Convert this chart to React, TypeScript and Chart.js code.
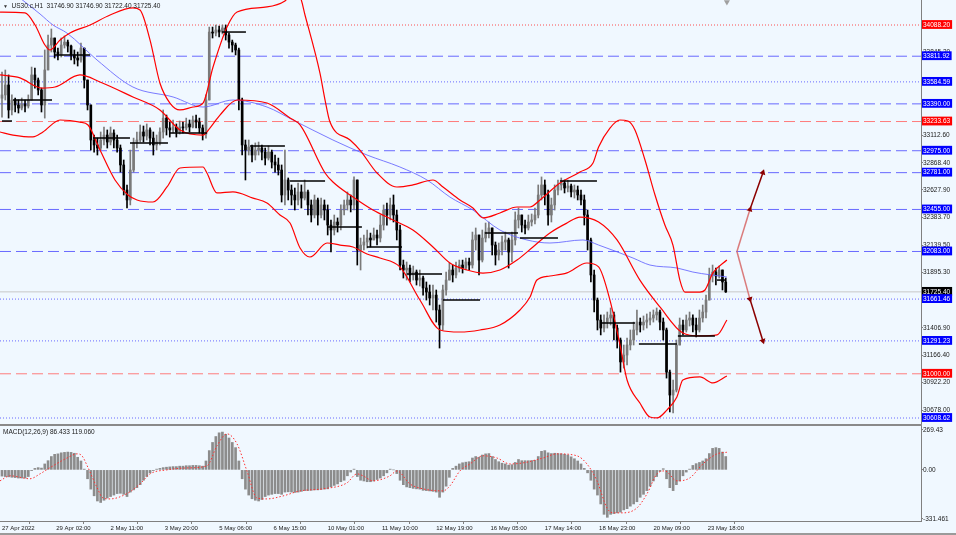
import React, { useEffect, useRef } from "react";
import { Chart, registerables } from "chart.js";

Chart.register(...registerables);

const FONT = "'Liberation Sans', Arial, sans-serif";
const BG = "#f0f8ff";

const X_MIN = -1.216;
const X_MAX = 558.7;
const Y_MIN = 30555.5;
const Y_MAX = 34309.6;
const MACD_MIN = -345;
const MACD_MAX = 296;

// ---- price data (2-hour candles, x = hour index) ----
const firstOpen = 33440;
const closes = [
  33469, 33557, 33336, 33424, 33380, 33353, 33389, 33371, 33424, 33646,
  33601, 33513, 33380, 33690, 33911, 33973, 33849, 33823, 33911, 33937,
  33902, 33823, 33796, 33778, 33884, 33601, 33380, 33070, 33026, 32999,
  33070, 33114, 33052, 33132, 33070, 32999, 32849, 32627, 32539, 32804,
  33044, 33070, 33141, 33105, 33159, 33087, 33026, 33052, 33141, 33264,
  33177, 33159, 33185, 33141, 33185, 33177, 33212, 33185, 33247, 33229,
  33177, 33123, 33424, 34026, 34017, 34044, 34026, 34062, 34000, 33937,
  33911, 33867, 33424, 33026, 32981, 33008, 32937, 32981, 32999, 32963,
  32910, 32963, 32875, 32849, 32804, 32583, 32716, 32627, 32583, 32539,
  32610, 32556, 32610, 32495, 32406, 32539, 32406, 32495, 32450, 32317,
  32273, 32344, 32317, 32450, 32495, 32539, 32495, 32716, 32096, 32140,
  32167, 32202, 32185, 32229, 32202, 32317, 32450, 32406, 32495, 32406,
  32273, 31963, 31919, 31936, 31875, 31901, 31830, 31848, 31760, 31724,
  31671, 31697, 31565, 31432, 31742, 31830, 31919, 31875, 31936, 31963,
  31936, 31990, 31963, 32185, 32229, 32007, 32202, 32255, 32291, 32140,
  32052, 32096, 32167, 32185, 32078, 32185, 32362, 32406, 32317, 32291,
  32344, 32362, 32406, 32583, 32672, 32583, 32406, 32495, 32627, 32672,
  32689, 32645, 32663, 32610, 32627, 32583, 32539, 32406, 32185, 31875,
  31653, 31476, 31405, 31458, 31494, 31521, 31405, 31299, 31105, 31166,
  31255, 31299, 31388, 31458, 31432, 31458, 31476, 31494, 31521, 31547,
  31458, 31388, 31015, 30812, 30856, 31255, 31432, 31388, 31476, 31494,
  31432, 31388, 31494, 31547, 31653, 31875, 31901, 31866, 31919, 31813,
  31725.4,
];
const highs = [
  33672, 33690, 33646, 33469, 33442, 33424, 33442, 33424, 33469, 33716,
  33707, 33619, 33530, 33867, 34000, 34053, 33955, 33885, 33973, 33991,
  33955, 33911, 33867, 33849, 33928, 33884, 33601, 33380, 33114, 33087,
  33141, 33185, 33159, 33185, 33159, 33114, 33026, 32893, 32672, 32981,
  33087, 33141, 33203, 33194, 33212, 33177, 33141, 33114, 33177, 33336,
  33291, 33229, 33247, 33212, 33238, 33229, 33264, 33247, 33282, 33291,
  33264, 33203, 33469, 34070, 34070, 34088, 34079, 34088, 34088, 34017,
  33955, 33928, 33884, 33442, 33070, 33070, 33026, 33044, 33052, 33026,
  32999, 33017, 32981, 32937, 32910, 32849, 32981, 32734, 32672, 32645,
  32689, 32672, 32716, 32627, 32539, 32583, 32556, 32556, 32539, 32495,
  32362, 32406, 32380, 32495, 32539, 32610, 32583, 32743, 32716, 32202,
  32229, 32273, 32246, 32291, 32273, 32406, 32495, 32512, 32556, 32583,
  32450, 32317, 32007, 31990, 31963, 31954, 31919, 31919, 31866, 31813,
  31786, 31786, 31742, 31609, 31786, 31901, 31981, 31963, 31990, 32007,
  32007, 32025, 32025, 32255, 32291, 32229, 32273, 32335, 32344, 32291,
  32167, 32158, 32220, 32255, 32202, 32255, 32433, 32468, 32406, 32362,
  32406, 32415, 32468, 32672, 32743, 32716, 32627, 32556, 32672, 32716,
  32734, 32716, 32716, 32680, 32672, 32663, 32627, 32583, 32450, 32202,
  31919, 31671, 31521, 31521, 31547, 31583, 31547, 31432, 31317, 31255,
  31317, 31388, 31458, 31565, 31494, 31512, 31530, 31547, 31565, 31583,
  31565, 31494, 31405, 31033, 30945, 31299, 31494, 31476, 31521, 31547,
  31521, 31494, 31565, 31609, 31697, 31936, 31963, 31936, 31954, 31919,
  31848,
];
const lows = [
  33273, 33424, 33264, 33291, 33318, 33309, 33336, 33318, 33353, 33424,
  33530, 33469, 33318, 33264, 33778, 33849, 33796, 33778, 33805, 33884,
  33849, 33778, 33743, 33725, 33760, 33530, 33336, 32981, 32963, 32937,
  32981, 33026, 32999, 33026, 32999, 32963, 32786, 32583, 32468, 32495,
  32786, 32999, 33052, 33052, 33070, 33026, 32937, 32981, 33026, 33087,
  33114, 33096, 33132, 33096, 33123, 33132, 33159, 33141, 33177, 33177,
  33132, 33070, 33087, 33424, 33973, 33991, 33982, 34009, 33955, 33884,
  33849, 33823, 33336, 32937, 32716, 32937, 32875, 32893, 32937, 32893,
  32849, 32893, 32822, 32786, 32760, 32521, 32495, 32539, 32495, 32450,
  32495, 32468, 32539, 32406, 32344, 32380, 32317, 32380, 32362, 32229,
  32078, 32229, 32255, 32273, 32406, 32450, 32433, 32450, 31963, 31919,
  32096, 32114, 32123, 32202, 32140, 32167, 32273, 32317, 32362, 32344,
  32185, 31919, 31848, 31830, 31813, 31830, 31786, 31777, 31697, 31653,
  31609, 31565, 31458, 31228, 31388, 31697, 31830, 31813, 31848, 31901,
  31892, 31919, 31919, 31936, 32096, 31875, 31990, 32167, 32202, 32052,
  31963, 32007, 32052, 32096, 31936, 31990, 32140, 32291, 32255, 32238,
  32273, 32309, 32326, 32380, 32539, 32495, 32317, 32344, 32450, 32583,
  32627, 32601, 32610, 32565, 32556, 32539, 32495, 32317, 32096, 31813,
  31547, 31388, 31344, 31370, 31405, 31432, 31299, 31228, 31015, 31051,
  31078, 31211, 31255, 31344, 31370, 31388, 31405, 31432, 31458, 31476,
  31388, 31299, 30962, 30662, 30653, 30839, 31255, 31344, 31370, 31423,
  31370, 31326, 31370, 31458, 31494, 31653, 31813, 31786, 31848, 31742,
  31720,
];

// ---- MACD ----
const macdHist = [
  -42, -45, -47, -50, -52, -55, -55, -55, -45, -5,
  10, 15, 12, 40, 62, 90, 105, 108, 115, 118,
  120, 118, 112, 85, 60, 5, -60, -130, -175, -210,
  -220, -205, -190, -180, -170, -160, -158, -165, -180, -150,
  -135, -120, -100, -70, -45, -20, -5, 5, 10, 15,
  18, 20, 22, 22, 25, 25, 28, 28, 30, 30,
  28, 25, 60, 130, 185, 225, 250, 255, 240, 215,
  185, 150, 60, -60, -130, -170, -195, -205, -210, -200,
  -180, -170, -165, -160, -160, -165, -150, -148, -150, -152,
  -150, -145, -140, -140, -138, -135, -135, -133, -130, -128,
  -115, -105, -95, -80, -70, -40, -15, 5, -45, -70,
  -75, -80, -80, -75, -65, -55, -40, -20, 5, 0,
  -25, -70, -100, -115, -120, -125, -128, -130, -138, -140,
  -142, -145, -150, -185, -150, -110, -50, 10, 25, 40,
  48, 52, 55, 80, 90, 85, 100, 108, 110, 90,
  70, 55, 45, 40, 32, 35, 50, 70, 62, 62,
  62, 63, 65, 90, 125, 130, 115, 110, 112, 110,
  108, 105, 100, 88, 75, 60, 40, 10, -20, -70,
  -130, -170, -230, -300, -320, -300, -295, -290, -285, -270,
  -262, -245, -230, -215, -185, -165, -140, -110, -75, -45,
  -10, 8, -60, -120, -140, -100, -75, -40, -15, 5,
  30, 42, 50, 60, 75, 110, 145, 150, 145, 120,
  90,
];
const macdSignal = [
  [-1.2, -74], [4.9, -40], [17, -60], [23.1, -27], [29.2, 15], [39.5, 80], [45.6, 108], [48.6, 95],
  [52.3, 15], [57.8, -120], [61.4, -190], [65.7, -196], [76, -160], [83.9, -95], [90, -27],
  [100.3, 0], [112.5, 13], [124.6, 27], [130.7, 162], [136.8, 243], [142.9, 175], [148.9, -7],
  [155, -190], [161.1, -196], [170.8, -176], [181.2, -142], [195.1, -128], [209.7, -88],
  [215.8, -27], [219.5, -40], [225.5, -74], [235.9, -40], [240.1, -7], [248, -95], [255.9, -128],
  [268.1, -142], [272.3, -108], [278.4, -7], [284.5, 40], [292.4, 95], [300.9, 80], [308.8, 40],
  [316.7, 47], [328.9, 80], [337.4, 108], [349.5, 95], [355.6, 40], [361.7, -74], [367.8, -257],
  [371.4, -290], [377.5, -290], [386, -257], [392.1, -162], [398.2, -27], [403, -7], [410.3, -74],
  [418.2, -54], [426.1, 40], [434.7, 108], [440.7, 119],
];

// ---- Bollinger bands and moving average ----
const bbUpper = [
  [-1.2, 34203], [14, 34195], [20.1, 34088], [26.1, 33911], [29.2, 33867], [35.3, 33955],
  [41.3, 34017], [53.5, 34088], [65.7, 34177], [79.6, 34239], [83.9, 34221], [90, 33955],
  [96, 33575], [102.1, 33397], [108.2, 33336], [116.1, 33362], [122.2, 33397], [128.3, 33716],
  [136.8, 34070], [142.9, 34203], [161.1, 34248], [172, 34301], [176.3, 34363], [181.2, 34336],
  [184.2, 34177], [193.3, 33663], [196.4, 33424], [199.4, 33229], [211.6, 33070], [217.6, 32981],
  [228, 32778], [240.1, 32654], [249.8, 32672], [262, 32716], [268.1, 32654], [278.4, 32539],
  [286.3, 32468], [292.4, 32380], [302.7, 32424], [313.1, 32477], [321, 32477], [327.1, 32539],
  [339.2, 32689], [351.4, 32787], [359.3, 32867], [362.7, 33008], [369.6, 33176], [375.7, 33247],
  [380.5, 33238], [384.8, 33159], [390.9, 32893], [397, 32583], [403, 32317], [407.9, 32140],
  [412.1, 31830], [415.2, 31724], [424.3, 31724], [427.4, 31742], [432.2, 31893], [440.7, 32007],
];
const bbMiddle = [
  [-1.2, 33646], [10.9, 33620], [24.3, 33530], [32.2, 33539], [47.4, 33646], [59.6, 33584],
  [79.6, 33451], [96, 33336], [108.2, 33159], [122.2, 33114], [126.4, 33176], [132.5, 33291],
  [142.9, 33424], [161.1, 33398], [175.1, 33265], [181.2, 33203], [196.4, 32778], [201.2, 32698],
  [213.4, 32565], [225.5, 32450], [237.7, 32362], [249.8, 32273], [262, 32123], [272.3, 31981],
  [282.7, 31919], [292.4, 31892], [302.7, 31919], [313.1, 32007], [322.8, 32123], [333.1, 32247],
  [343.5, 32335], [351.4, 32388], [362.7, 32344], [373.9, 32185], [387.8, 31830], [400, 31592],
  [413.9, 31361], [424.3, 31335], [434.7, 31344], [440.7, 31476],
];
const bbLower = [
  [-1.2, 33141], [6.7, 33114], [18.8, 33097], [24.9, 33141], [35.3, 33247], [47.4, 33229],
  [52.3, 33203], [59.6, 32981], [68.7, 32716], [76.6, 32583], [82.1, 32539], [91.8, 32521],
  [100.3, 32654], [108.2, 32822], [122.2, 32831], [124.6, 32778], [130.7, 32601], [140.4, 32610],
  [152.6, 32556], [161.1, 32512], [169, 32406], [175.1, 32335], [181.2, 32114], [187.2, 32034],
  [197.6, 32158], [205.5, 32140], [213.4, 32123], [221.9, 32061], [229.8, 32025], [241.9, 31946],
  [254.1, 31653], [266.3, 31388], [278.4, 31370], [290.6, 31388], [302.7, 31432], [314.9, 31565],
  [321, 31680], [325.2, 31830], [333.1, 31866], [343.5, 31893], [355.6, 31981], [362.7, 31946],
  [369.6, 31653], [375.7, 31255], [380, 30945], [387.8, 30741], [393.9, 30617], [398.2, 30609],
  [404.2, 30679], [410.3, 30795], [413.9, 30945], [424.3, 30972], [432.2, 30919], [440.7, 30981],
];
const movingAvg = [
  [10.9, 34327], [23.1, 34186], [31, 34088], [39.5, 34017], [57.8, 33778], [79.6, 33539],
  [104, 33451], [122.2, 33362], [140.4, 33424], [161.1, 33362], [176.9, 33247], [201.2, 33070],
  [221.9, 32937], [241.9, 32831], [258.4, 32716], [272.3, 32565], [286.3, 32450], [302.7, 32273],
  [319.1, 32185], [333.1, 32158], [353.2, 32185], [362.7, 32140], [383.6, 32025], [393.9, 31963],
  [410.3, 31937], [420, 31901], [440.7, 31857],
];

// ---- daily segments [fromHour, toHour, price] ----
const dailySegments = [
  [0, 6.1, 33238], [6.7, 30.4, 33424], [32.2, 53.5, 33823], [55.3, 77.8, 33087],
  [77.8, 100.9, 33044], [102.1, 124.6, 33132], [133.7, 148.3, 34026], [150.8, 172, 33017],
  [175.1, 196.4, 32707], [198.2, 218.8, 32300], [221.9, 243.2, 32123], [246.2, 267.5, 31884],
  [268.1, 290.6, 31653], [293.6, 313.7, 32246], [314.9, 338, 32202], [339.2, 361.7, 32707],
  [363.8, 384.8, 31450], [387.2, 410.3, 31264], [410.9, 433.4, 31335], [434.7, 440.1, 31830],
];

// ---- horizontal levels ----
const levelPrices = [
  34088.2, 33811.92, 33584.59, 33390.0, 33233.63, 32975.0, 32781.0,
  32455.0, 32083.0, 31725.4, 31661.46, 31291.23, 31000.0, 30608.62,
];
const levelKinds = [
  "redDot", "blueDash", "blueDot", "blueDash", "redDash", "blueDash", "blueDash",
  "blueDash", "blueDash", "price", "blueDot", "blueDot", "redDash", "blueDot",
];
const priceTickValues = [
  33845.2, 33112.6, 32868.4, 32627.9, 32383.7, 32139.5, 31895.3,
  31406.9, 31166.4, 30922.2, 30678.0,
];

const macdTickValues = [269.43, 0, -331.461];
const macdTickLabels = ["269.43", "0.00", "-331.461"];

const xTickHours = [0, 33, 66, 99, 132, 165, 198, 231, 264, 297, 330, 363, 396, 429];
const xTickLabels = [
  "27 Apr 2022", "29 Apr 02:00", "2 May 11:00", "3 May 20:00", "5 May 06:00",
  "6 May 15:00", "10 May 01:00", "11 May 10:00", "12 May 19:00", "16 May 05:00",
  "17 May 14:00", "18 May 23:00", "20 May 09:00", "23 May 18:00",
];

const arrowUp = [[446.8, 32083], [454.7, 32455], [462.6, 32781]];
const arrowDown = [[446.8, 32083], [454.7, 31661.46], [462.6, 31291.23]];

const LEVEL_STYLE: Record<string, { line: string; dash: number[]; box: string }> = {
  redDot: { line: "rgba(255,50,50,0.85)", dash: [1, 2], box: "#ff0000" },
  blueDash: { line: "rgba(80,80,255,0.85)", dash: [11, 5], box: "#0000ff" },
  blueDot: { line: "rgba(80,80,255,0.85)", dash: [1, 2], box: "#0000ff" },
  redDash: { line: "rgba(255,110,110,0.9)", dash: [11, 5], box: "#ff0000" },
  price: { line: "#c8c8c8", dash: [], box: "#000000" },
};

const pts = (arr: number[][]) => arr.map(([x, y]) => ({ x, y }));

function levelIndex(v: number) {
  return levelPrices.indexOf(v);
}

export default function App() {
  const mainRef = useRef<HTMLCanvasElement | null>(null);
  const macdRef = useRef<HTMLCanvasElement | null>(null);

  useEffect(() => {
    document.body.style.margin = "0";
    const hours = closes.map((_, i) => i * 2);
    const opens = closes.map((_, i) => (i === 0 ? firstOpen : closes[i - 1]));
    const colors = closes.map((c, i) => (c >= opens[i] ? "#7a7a7a" : "#000000"));

    const lineDs = (data: any[], color: string, width: number, dash: number[], order: number, extra: any = {}) => ({
      type: "line",
      data,
      borderColor: color,
      borderWidth: width,
      borderDash: dash,
      pointRadius: 0,
      fill: false,
      order,
      ...extra,
    });

    const datasets: any[] = [];
    levelPrices.forEach((p, i) => {
      const st = LEVEL_STYLE[levelKinds[i]];
      datasets.push(lineDs([{ x: X_MIN, y: p }, { x: X_MAX, y: p }], st.line, 1, st.dash, 20));
    });
    datasets.push({
      type: "bar",
      data: hours.map((h, i) => ({
        x: h,
        y: [Math.min(lows[i], opens[i], closes[i]), Math.max(highs[i], opens[i], closes[i])],
      })),
      backgroundColor: colors,
      borderWidth: 0,
      barThickness: 1,
      grouped: false,
      order: 9,
    });
    datasets.push({
      type: "bar",
      data: hours.map((h, i) => ({ x: h, y: [opens[i], closes[i]] })),
      backgroundColor: colors,
      borderWidth: 0,
      barThickness: 2,
      minBarLength: 1,
      grouped: false,
      order: 8,
    });
    datasets.push(lineDs(pts(movingAvg), "rgba(100,100,255,0.85)", 1, [], 6, { cubicInterpolationMode: "monotone" }));
    datasets.push(lineDs(pts(bbUpper), "#ff0000", 1.2, [], 5, { cubicInterpolationMode: "monotone" }));
    datasets.push(lineDs(pts(bbMiddle), "#ff0000", 1.2, [], 5, { cubicInterpolationMode: "monotone" }));
    datasets.push(lineDs(pts(bbLower), "#ff0000", 1.2, [], 5, { cubicInterpolationMode: "monotone" }));
    dailySegments.forEach(([a, b, p]) => {
      datasets.push(lineDs([{ x: a, y: p }, { x: b, y: p }], "#000000", 1.5, [], 4));
    });
    const arrowSeg = (p0: number[], p1: number[], color: string, rot: number) =>
      lineDs(pts([p0, p1]), color, 1.5, [], 1, {
        pointRadius: [0, 3.5],
        pointStyle: "triangle",
        pointRotation: [0, rot],
        pointBackgroundColor: "#8b0000",
        pointBorderColor: "#8b0000",
        pointBorderWidth: 0,
      });
    datasets.push(arrowSeg(arrowUp[0], arrowUp[1], "rgba(215,110,110,0.9)", 19));
    datasets.push(arrowSeg(arrowUp[1], arrowUp[2], "#8b0000", 18));
    datasets.push(arrowSeg(arrowDown[0], arrowDown[1], "rgba(215,110,110,0.9)", 165));
    datasets.push(arrowSeg(arrowDown[1], arrowDown[2], "#8b0000", 162));
    datasets.push({
      type: "line",
      data: [{ x: 440.7, y: 34292 }],
      showLine: false,
      pointRadius: 3.5,
      pointStyle: "triangle",
      pointRotation: 180,
      pointBackgroundColor: "#a0a0a0",
      pointBorderWidth: 0,
      order: 1,
    });

    const yTicks = [...priceTickValues, ...levelPrices];

    const main = new Chart(mainRef.current as HTMLCanvasElement, {
      type: "bar",
      data: { datasets },
      options: {
        animation: false,
        responsive: false,
        maintainAspectRatio: false,
        events: [],
        layout: { padding: 0, autoPadding: false },
        plugins: { legend: { display: false }, tooltip: { enabled: false }, title: { display: false } },
        scales: {
          x: { type: "linear", min: X_MIN, max: X_MAX, offset: false, display: false },
          y: {
            type: "linear",
            position: "right",
            min: Y_MIN,
            max: Y_MAX,
            beginAtZero: false,
            afterBuildTicks: (s: any) => {
              s.ticks = yTicks.map((v) => ({ value: v }));
            },
            afterFit: (s: any) => {
              s.width = 35;
              s.paddingTop = 0;
              s.paddingBottom = 0;
            },
            grid: { drawOnChartArea: false, drawTicks: true, tickLength: 2, color: "#808080" },
            border: { display: true, color: "#808080", width: 1 },
            ticks: {
              autoSkip: false,
              padding: 0,
              font: { family: FONT, size: 6.5 },
              callback: (v: any) => Number(v).toFixed(2),
              color: (c: any) => (levelIndex(c.tick?.value) >= 0 ? "#ffffff" : "#1a1a1a"),
              showLabelBackdrop: (c: any) => levelIndex(c.tick?.value) >= 0,
              backdropColor: (c: any) => {
                const i = levelIndex(c.tick?.value);
                return i >= 0 ? LEVEL_STYLE[levelKinds[i]].box : "rgba(0,0,0,0)";
              },
              backdropPadding: { left: 1, right: 2, top: 1, bottom: 0 },
            },
          },
        },
      } as any,
    } as any);

    const macd = new Chart(macdRef.current as HTMLCanvasElement, {
      type: "bar",
      data: {
        datasets: [
          {
            type: "line",
            data: pts(macdSignal),
            borderColor: "#ff3030",
            borderWidth: 1,
            borderDash: [1.5, 2],
            pointRadius: 0,
            cubicInterpolationMode: "monotone",
            order: 1,
          } as any,
          {
            type: "bar",
            data: hours.map((h, i) => ({ x: h, y: macdHist[i] })),
            backgroundColor: "#8c8c8c",
            borderWidth: 0,
            barThickness: 2,
            grouped: false,
            order: 2,
          } as any,
        ],
      },
      options: {
        animation: false,
        responsive: false,
        maintainAspectRatio: false,
        events: [],
        layout: { padding: { top: 2, left: 0, right: 0, bottom: 0 }, autoPadding: false },
        plugins: { legend: { display: false }, tooltip: { enabled: false } },
        scales: {
          x: {
            type: "linear",
            min: X_MIN,
            max: X_MAX,
            offset: false,
            position: "bottom",
            afterBuildTicks: (s: any) => {
              s.ticks = xTickHours.map((v) => ({ value: v }));
            },
            afterFit: (s: any) => {
              s.height = 14;
              s.paddingLeft = 0;
              s.paddingRight = 0;
            },
            grid: { drawOnChartArea: false, drawTicks: true, tickLength: 3, color: "#808080" },
            border: { display: true, color: "#808080", width: 1 },
            ticks: {
              autoSkip: false,
              maxRotation: 0,
              minRotation: 0,
              align: "start",
              padding: 1,
              font: { family: FONT, size: 6 },
              color: "#1a1a1a",
              callback: (_v: any, i: number) => xTickLabels[i] ?? "",
            },
          },
          y: {
            type: "linear",
            position: "right",
            min: MACD_MIN,
            max: MACD_MAX,
            beginAtZero: false,
            afterBuildTicks: (s: any) => {
              s.ticks = macdTickValues.map((v) => ({ value: v }));
            },
            afterFit: (s: any) => {
              s.width = 35;
              s.paddingTop = 0;
              s.paddingBottom = 0;
            },
            grid: { drawOnChartArea: false, drawTicks: true, tickLength: 2, color: "#808080" },
            border: { display: true, color: "#808080", width: 1 },
            ticks: {
              autoSkip: false,
              padding: 0,
              font: { family: FONT, size: 6.5 },
              color: "#1a1a1a",
              callback: (_v: any, i: number) => macdTickLabels[i] ?? "",
            },
          },
        },
      } as any,
    } as any);

    return () => {
      main.destroy();
      macd.destroy();
    };
  }, []);

  return (
    <div
      style={{
        position: "relative",
        width: 956,
        height: 535,
        background: BG,
        overflow: "hidden",
        fontFamily: FONT,
      }}
    >
      <canvas ref={mainRef} width={956} height={424} style={{ position: "absolute", left: 0, top: 0 }} />
      <canvas ref={macdRef} width={956} height={111} style={{ position: "absolute", left: 0, top: 424 }} />
      <div style={{ position: "absolute", left: 0, top: 424, width: 922, height: 2, background: "#8a8a8a" }} />
      <div style={{ position: "absolute", left: 0, top: 533, width: 956, height: 2, background: "#9a9a9a" }} />
      <div
        style={{
          position: "absolute",
          left: 3,
          top: 0,
          fontSize: "6.5px",
          lineHeight: "11px",
          color: "#1a1a1a",
          whiteSpace: "pre",
        }}
      >
        <span style={{ fontSize: "5px", color: "#333" }}>▼</span>
        {"  US30.c,H1  31746.90 31746.90 31722.40 31725.40"}
      </div>
      <div
        style={{
          position: "absolute",
          left: 3,
          top: 427,
          fontSize: "6.5px",
          lineHeight: "9px",
          color: "#1a1a1a",
          whiteSpace: "pre",
        }}
      >
        {"MACD(12,26,9) 86.433 119.060"}
      </div>
    </div>
  );
}
